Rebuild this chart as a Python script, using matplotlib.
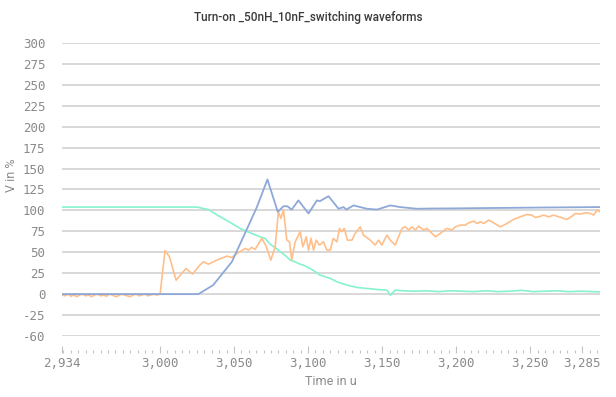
import numpy as np
import matplotlib
matplotlib.use("Agg")
import matplotlib.pyplot as plt
from matplotlib.ticker import FixedLocator, MultipleLocator

# ---------------------------------------------------------------------------
# Data (time in u, value in %)
# ---------------------------------------------------------------------------
blue_t = [2934, 3026, 3036, 3048.6, 3056.4, 3065.5, 3072.6, 3079.6, 3083.4, 3086,
          3089, 3093.5, 3100.3, 3106, 3108, 3113.8, 3120.6, 3124, 3125.8, 3130.7,
          3139.7, 3146.5, 3155.5, 3162.2, 3173.5, 3185, 3196, 3230, 3260, 3297]
blue_v = [0, 0, 10.8, 38.6, 68.5, 104, 137, 98.3, 105, 105,
          101, 112, 96.4, 112, 111, 117, 102, 104, 101, 106,
          102, 101, 106, 104, 102, 102.3, 102.4, 103, 103.5, 104]

orange_t = [2934, 2936, 2938, 2940, 2942, 2944, 2946, 2948, 2950, 2952,
            2954, 2956, 2958, 2960, 2962, 2964, 2966, 2968, 2970, 2972,
            2974, 2976, 2978, 2980, 2982, 2984, 2986, 2988, 2990, 2992,
            2994, 2996, 2998, 3000.2, 3003.5, 3006.5, 3011, 3017.7, 3022, 3027,
            3029.4, 3032.8, 3038.4, 3045.2, 3048.6, 3052, 3057.6, 3059.8, 3062, 3064.3,
            3068.8, 3071.7, 3074.9, 3077.8, 3080, 3081.7, 3083.4, 3085.7, 3087.5, 3089,
            3091.3, 3094.7, 3096.5, 3098.8, 3100.3, 3102, 3103.7, 3105.5, 3107.8, 3110.4,
            3112.7, 3115, 3117, 3119.5, 3121.2, 3122.8, 3124.4, 3126.6, 3129.6, 3131.8,
            3135.2, 3137.4, 3142, 3145.3, 3147.6, 3149.8, 3153.2, 3155.5, 3158.8, 3163.4,
            3165.6, 3167.9, 3170.1, 3172.4, 3174.6, 3178, 3180.3, 3185.9, 3189.2, 3192.6,
            3194, 3197.2, 3199.4, 3202.7, 3206, 3208.4, 3211.7, 3214, 3216.3, 3218.5,
            3221.8, 3225.2, 3229.7, 3233.1, 3238.7, 3243.2, 3247.7, 3251, 3253.4, 3255.6,
            3259, 3262.4, 3265.7, 3269.1, 3272.5, 3274.8, 3278.2, 3280.4, 3283.8, 3287.1,
            3290.5, 3292.8, 3295, 3297]
orange_v = [-1, -2, 0, -2.5, -1, -3, -1, 0, -2, -1,
            -3, -1, 0, -2, -1, -2.5, 0, -1, -3, -2,
            0, -1, -2, -3, -1, 0, -2, -1, 0, -2,
            -1, 0, -1, 0, 52, 44.6, 16.7, 30.7, 23.9, 34.6,
            38.6, 35.8, 40.6, 45.4, 43.8, 48.6, 54.6, 52.6, 55.8, 53.4,
            66.6, 57.4, 40.6, 56.5, 98.3, 90.5, 101, 64.5, 62.5, 40.6,
            62.5, 74.5, 56.5, 68.5, 52.6, 66.6, 52.6, 64.5, 58.6, 62.5,
            52.6, 52.6, 66.6, 62.5, 78.5, 74.5, 78.5, 64.5, 64.5, 72.5,
            80.4, 70.5, 64.5, 58.6, 64.5, 58.6, 70.5, 64.5, 58.6, 78.5,
            80.4, 76.5, 80.4, 76.5, 81.3, 76.5, 78.5, 68.5, 72.5, 77.3,
            78.5, 76.5, 80.4, 82.4, 82.4, 85.2, 87.2, 84.5, 86.4, 84.5,
            88.4, 85.2, 80.4, 83.3, 89.3, 92.4, 95.2, 94.4, 91.6, 92.4,
            94.4, 92.4, 94.4, 92.4, 90.5, 89.3, 93.2, 96.4, 95.6, 97.2,
            96.4, 94.4, 100.4, 98.3]

teal_t = [2934, 3025, 3032.8, 3040.7, 3048.6, 3054.2, 3061, 3067.7, 3071, 3074.4,
          3080, 3085.7, 3088, 3091.3, 3094.7, 3096.9, 3101.4, 3108.2, 3115, 3119.5,
          3126.3, 3133, 3139.7, 3146.5, 3153.2, 3155.5, 3158.8, 3164.5, 3172, 3180,
          3188, 3196, 3204, 3212, 3220, 3228, 3236, 3244, 3252, 3260,
          3268, 3276, 3284, 3292, 3297]
teal_v = [104, 104, 101, 92.4, 84.5, 78.5, 73.2, 68.5, 66.5, 59.8,
          52.6, 44.6, 40.6, 38.6, 35.8, 34.6, 30.7, 22.7, 18.8, 14.7,
          10.8, 8, 6.8, 5.6, 4.8, -1.2, 4.8, 4, 3.5, 4,
          3, 4, 3.5, 3, 4, 3, 3.5, 4.5, 3, 3.5,
          4, 3, 3.5, 3, 2.7]

x_ticks = [2934, 3000, 3050, 3100, 3150, 3200, 3250, 3285]
x_tick_labels = ["2,934", "3,000", "3,050", "3,100", "3,150", "3,200", "3,250", "3,285"]
y_ticks = [-50, -25, 0, 25, 50, 75, 100, 125, 150, 175, 200, 225, 250, 275, 300]
y_tick_labels = ["-60", "-25", "0", "25", "50", "75", "100", "125", "150",
                 "175", "200", "225", "250", "275", "300"]

COLORS = {
    'blue': '#8ea8d8',
    'orange': '#ffbf8a',
    'teal': '#86f2cf',
    'grid': '#d6d6d6',
    'tick': '#8a8a8a',
    'title': '#3a3a3a',
}

plt.rcParams['font.family'] = ['DejaVu Sans Mono', 'DejaVu Sans']

fig = plt.figure(figsize=(6.16, 3.97), dpi=100)
ax = fig.add_axes([62 / 616, 1 - 336 / 397, 538 / 616, 293 / 397])

ax.plot(teal_t, teal_v, color=COLORS['teal'], lw=1.2, zorder=3)
ax.plot(orange_t, orange_v, color=COLORS['orange'], lw=1.2, zorder=4)
ax.plot(blue_t, blue_v, color=COLORS['blue'], lw=1.3, zorder=5)

ax.set_xlim(2934, 3297)
ax.set_ylim(-50, 300)

ax.yaxis.set_major_locator(FixedLocator(y_ticks))
ax.set_yticklabels(y_tick_labels)
ax.grid(axis='y', color=COLORS['grid'], lw=1.3, zorder=0)
ax.tick_params(axis='y', length=0, pad=12, labelsize=9, labelcolor=COLORS['tick'])

ax.xaxis.set_major_locator(FixedLocator(x_ticks))
ax.set_xticklabels(x_tick_labels)
ax.xaxis.set_minor_locator(MultipleLocator(5))
ax.tick_params(axis='x', which='major', direction='in', length=5, width=0.8,
               color='#c4c4c4', pad=3, labelsize=9, labelcolor=COLORS['tick'])
ax.tick_params(axis='x', which='minor', direction='in', length=2.5, width=0.8,
               color='#c4c4c4')
lbls = ax.get_xticklabels()
lbls[0].set_horizontalalignment('left')

for s in ['top', 'right', 'left']:
    ax.spines[s].set_visible(False)
ax.spines['bottom'].set_position(('outward', 12))
ax.spines['bottom'].set_visible(False)

ax.set_xlabel('Time in u', family='Roboto', fontsize=9, color=COLORS['tick'], labelpad=4)
ax.set_ylabel('V in %', family='Roboto', fontsize=9, color=COLORS['tick'])
ax.yaxis.set_label_coords(-0.082, 0.55)

fig.text(0.5, 1 - 17 / 397, 'Turn-on _50nH_10nF_switching waveforms', family='Roboto',
         fontsize=8.5, fontweight='medium', color=COLORS['title'], ha='center', va='center')

fig.savefig('out.png', dpi=100)
